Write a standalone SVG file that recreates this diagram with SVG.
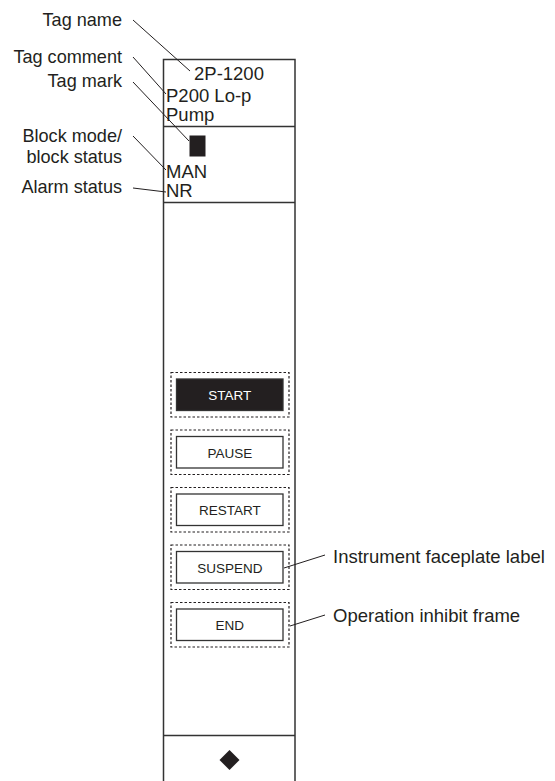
<svg xmlns="http://www.w3.org/2000/svg" width="555" height="781" viewBox="0 0 555 781">
<style>
.lbl{font-family:"Liberation Sans",Arial,sans-serif;font-size:18.5px;fill:#231f20}
.lbl-r{text-anchor:end;font-size:18.1px}
.btn{font-family:"Liberation Sans",Arial,sans-serif;font-size:13.5px;fill:#231f20;text-anchor:middle}
.panel{fill:#fff;stroke:#333;stroke-width:1.5}
.div{stroke:#333;stroke-width:1.5}
.frame{fill:none;stroke:#231f20;stroke-width:1.2;stroke-dasharray:2.5 2}
.inner{fill:#fff;stroke:#333;stroke-width:1.3}
.lead{stroke:#231f20;stroke-width:1;fill:none}
</style>
<rect width="555" height="781" fill="#fff"/>
<g id="panel">
<path class="panel" d="M163.5 782 V59.5 H295 V782"/>
<line class="div" x1="163.5" y1="126.5" x2="295" y2="126.5"/>
<line class="div" x1="163.5" y1="202.5" x2="295" y2="202.5"/>
<line class="div" x1="163.5" y1="735.5" x2="295" y2="735.5"/>
</g>
<g id="tag-area">
<text class="lbl" x="194" y="80">2P-1200</text>
<text class="lbl" x="166" y="101.5">P200 Lo-p</text>
<text class="lbl" x="166" y="120.5">Pump</text>
</g>
<g id="tag-mark"><rect x="189.5" y="135.5" width="16" height="21" fill="#231f20"/></g>
<g id="status-area">
<text class="lbl" x="166" y="178">MAN</text>
<text class="lbl" x="166" y="197">NR</text>
</g>
<g id="btn-start">
<rect class="frame" x="171" y="372.5" width="118" height="44.5"/>
<rect x="176.5" y="379" width="106.5" height="31.5" fill="#231f20" stroke="#333" stroke-width="1.3"/>
<text class="btn" x="229.8" y="400" style="fill:#fff">START</text>
</g>
<g id="btn-pause">
<rect class="frame" x="171" y="430" width="118" height="44.5"/>
<rect class="inner" x="176.5" y="436.5" width="106.5" height="31.5"/>
<text class="btn" x="229.8" y="457.5">PAUSE</text>
</g>
<g id="btn-restart">
<rect class="frame" x="171" y="487.5" width="118" height="44.5"/>
<rect class="inner" x="176.5" y="494" width="106.5" height="31.5"/>
<text class="btn" x="229.8" y="515">RESTART</text>
</g>
<g id="btn-suspend">
<rect class="frame" x="171" y="545" width="118" height="44.5"/>
<rect class="inner" x="176.5" y="551.5" width="106.5" height="31.5"/>
<text class="btn" x="229.8" y="572.5">SUSPEND</text>
</g>
<g id="btn-end">
<rect class="frame" x="171" y="602.5" width="118" height="44.5"/>
<rect class="inner" x="176.5" y="609" width="106.5" height="31.5"/>
<text class="btn" x="229.8" y="630">END</text>
</g>
<g id="diamond"><path d="M229.5 750 L239.5 760 L229.5 770 L219.5 760 Z" fill="#231f20"/></g>
<g id="labels">
<text class="lbl lbl-r" x="122" y="26">Tag name</text>
<text class="lbl lbl-r" x="122" y="63">Tag comment</text>
<text class="lbl lbl-r" x="122" y="87">Tag mark</text>
<text class="lbl lbl-r" x="122" y="142">Block mode/</text>
<text class="lbl lbl-r" x="122" y="163">block status</text>
<text class="lbl lbl-r" x="122" y="193">Alarm status</text>
<text class="lbl" x="333" y="563">Instrument faceplate label</text>
<text class="lbl" x="333" y="622">Operation inhibit frame</text>
</g>
<g id="connectors">
<line class="lead" x1="133" y1="20" x2="190" y2="71"/>
<line class="lead" x1="133" y1="57" x2="166" y2="94"/>
<line class="lead" x1="133" y1="82" x2="189" y2="141"/>
<line class="lead" x1="133" y1="136" x2="166" y2="170"/>
<line class="lead" x1="133" y1="188" x2="166" y2="192"/>
<line class="lead" x1="284" y1="568" x2="325" y2="555"/>
<line class="lead" x1="290" y1="626" x2="325" y2="615"/>
</g>
</svg>
